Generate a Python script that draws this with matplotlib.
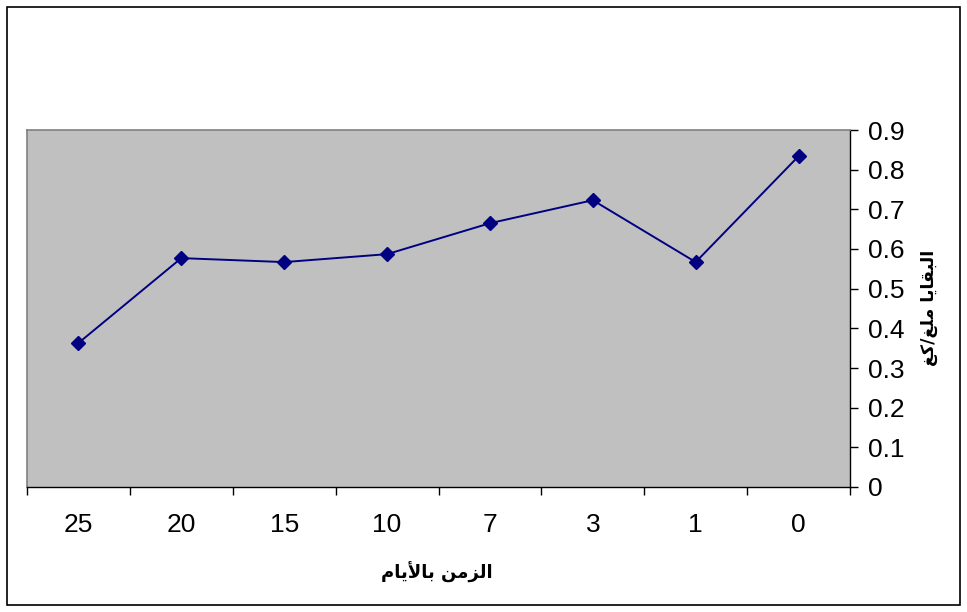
import matplotlib
matplotlib.use("Agg")
import matplotlib.pyplot as plt
from matplotlib.patches import Rectangle

categories = ["25", "20", "15", "10", "7", "3", "1", "0"]
values = [0.363, 0.577, 0.567, 0.587, 0.665, 0.723, 0.567, 0.834]
yticks = [0, 0.1, 0.2, 0.3, 0.4, 0.5, 0.6, 0.7, 0.8, 0.9]
ytick_labels = ["0", "0.1", "0.2", "0.3", "0.4", "0.5", "0.6", "0.7", "0.8", "0.9"]

# Arabic text in visual order with presentation forms (matplotlib has no shaping)
xlabel = "\uFEE1\uFE8E\uFEF3\uFEF7\uFE8E\uFE91 \uFEE6\uFEE3\uFEB0\uFEDF\uFE8D"  # الزمن بالأيام
ylabel = "\uFECE\uFEDB/\uFECE\uFEE0\uFEE3 \uFE8E\uFEF3\uFE8E\uFED8\uFE92\uFEDF\uFE8D"  # البقايا ملغ/كغ

W, H = 967, 612
fig = plt.figure(figsize=(W / 100, H / 100), dpi=100)
fig.patches.append(Rectangle((7 / W, 7 / H), (960 - 7) / W, (605 - 7) / H,
                             transform=fig.transFigure, fill=False,
                             edgecolor="black", linewidth=1.2))

left, right, top, bottom = 27, 850, 130, 487
ax = fig.add_axes([left / W, 1 - bottom / H, (right - left) / W, (bottom - top) / H])
ax.set_facecolor("#C0C0C0")

x = list(range(len(categories)))
ax.plot(x, values, color="#000080", linewidth=1.4, marker="D", markersize=7.5,
        markerfacecolor="#000080", markeredgecolor="#000080")

ax.set_xlim(-0.5, len(categories) - 0.5)
ax.set_ylim(0, 0.9)

ax.set_xticks(x)
ax.set_xticklabels(categories, fontfamily="Liberation Sans", fontsize=19)
ax.set_xticks([i - 0.5 for i in range(len(categories) + 1)], minor=True)
ax.tick_params(axis="x", which="major", length=0, pad=18.5)
ax.tick_params(axis="x", which="minor", length=6, width=1, color="black", direction="out")

ax.yaxis.tick_right()
ax.set_yticks(yticks)
ax.set_yticklabels(ytick_labels, fontfamily="Liberation Sans", fontsize=19)
ax.tick_params(axis="y", length=6, width=1, color="black", direction="out", pad=7)

for s in ["top", "left"]:
    ax.spines[s].set_color("#808080")
    ax.spines[s].set_linewidth(1.2)
for s in ["bottom", "right"]:
    ax.spines[s].set_color("black")
    ax.spines[s].set_linewidth(1.0)

fig.text(437 / W, 1 - 572 / H, xlabel, ha="center", va="center",
         fontfamily="DejaVu Sans", fontweight="bold", fontsize=13)
fig.text(929 / W, 1 - 308 / H, ylabel, ha="center", va="center", rotation=90,
         fontfamily="DejaVu Sans", fontweight="bold", fontsize=12.5)

fig.savefig("out.png", dpi=100)
